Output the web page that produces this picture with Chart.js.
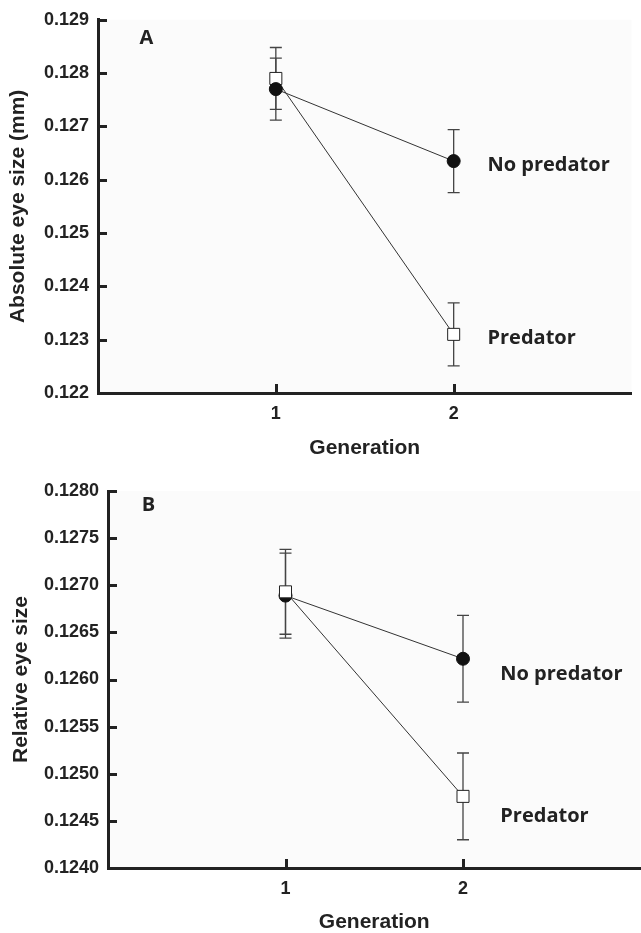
<!DOCTYPE html>
<html>
<head>
<meta charset="utf-8">
<script src="https://cdn.jsdelivr.net/npm/chart.js@4"></script>
<style>
html, body { margin: 0; padding: 0; background: #fff; width: 641px; height: 933px; overflow: hidden; }
#chartA { position: absolute; left: 0; top: 0; }
#chartB { position: absolute; left: 0; top: 466px; }
</style>
</head>
<body>
<canvas id="chartA" width="641" height="466" style="width:641px;height:466px"></canvas>
<canvas id="chartB" width="650" height="467" style="width:650px;height:467px"></canvas>
<script>
var generations = [1, 2]
var xTicks = [1, 2]
var seriesNames = ['No predator', 'Predator']

// panel A - absolute eye size (mm)
var noPredatorA = [0.12770, 0.12635]
var noPredatorErrA = [0.00058, 0.00059]
var predatorA = [0.12790, 0.12310]
var predatorErrA = [0.00058, 0.00059]

// panel B - relative eye size
var noPredatorB = [0.12689, 0.12622]
var noPredatorErrB = [0.00045, 0.00046]
var predatorB = [0.12693, 0.12476]
var predatorErrB = [0.00045, 0.00046]

var axisFont = 'Liberation Sans, Arial, sans-serif'
var labelFont = '"Open Sans", sans-serif'
var ink = '#222'

function toPoints(values) {
    return values.map(function(v, i) { return {x: generations[i], y: v} })
}

// background, error bars, inward ticks and the text labels
var eyeDecor = {
    id: 'eyeDecor',
    beforeDraw: function(chart) {
        var a = chart.chartArea
        var ctx = chart.ctx
        ctx.save()
        ctx.fillStyle = '#fbfbfb'
        ctx.fillRect(a.left, a.top, a.right - a.left, a.bottom - a.top)
        ctx.restore()
    },
    beforeDatasetsDraw: function(chart) {
        var ctx = chart.ctx
        var xs = chart.scales.x, ys = chart.scales.y
        ctx.save()
        ctx.strokeStyle = '#444'
        ctx.lineWidth = 1.3
        chart.data.datasets.forEach(function(ds) {
            ds.data.forEach(function(p, i) {
                var px = xs.getPixelForValue(p.x)
                var top = ys.getPixelForValue(p.y + ds.errors[i])
                var bot = ys.getPixelForValue(p.y - ds.errors[i])
                ctx.beginPath()
                ctx.moveTo(px, top); ctx.lineTo(px, bot)
                ctx.moveTo(px - 6, top); ctx.lineTo(px + 6, top)
                ctx.moveTo(px - 6, bot); ctx.lineTo(px + 6, bot)
                ctx.stroke()
            })
        })
        ctx.restore()
    },
    afterDraw: function(chart, args, opts) {
        var ctx = chart.ctx
        var xs = chart.scales.x, ys = chart.scales.y
        var a = chart.chartArea
        ctx.save()
        ctx.strokeStyle = ink
        ctx.lineWidth = 3
        ctx.beginPath()
        ys.ticks.forEach(function(t) {
            var py = Math.round(ys.getPixelForValue(t.value)) + 0.5
            ctx.moveTo(a.left, py); ctx.lineTo(a.left + 9, py)
        })
        xs.ticks.forEach(function(t) {
            var px = Math.round(xs.getPixelForValue(t.value)) + 0.5
            ctx.moveTo(px, a.bottom); ctx.lineTo(px, a.bottom - 9)
        })
        ctx.stroke()

        ctx.fillStyle = ink
        ctx.font = 'bold 20px ' + labelFont
        ctx.textBaseline = 'middle'
        ctx.textAlign = 'left'
        opts.labels.forEach(function(l) {
            ctx.fillText(l.text, xs.getPixelForValue(l.x), ys.getPixelForValue(l.y))
        })
        ctx.restore()
    }
}

function makeChart(id, cfg) {
    var datasets = [
        {
            label: seriesNames[0],
            data: toPoints(cfg.noPred),
            errors: cfg.noPredErr,
            pointStyle: 'circle',
            pointRadius: 6.5,
            pointBackgroundColor: '#111',
            pointBorderColor: '#111',
            pointBorderWidth: 1,
            borderColor: '#333',
            borderWidth: 1
        },
        {
            label: seriesNames[1],
            data: toPoints(cfg.pred),
            errors: cfg.predErr,
            pointStyle: 'rect',
            pointRadius: 8.5,
            pointBackgroundColor: '#fff',
            pointBorderColor: '#222',
            pointBorderWidth: 1,
            borderColor: '#333',
            borderWidth: 1
        }
    ]
    if (cfg.squareOnTop) datasets.reverse()

    return new Chart(document.getElementById(id), {
        type: 'line',
        data: {datasets: datasets},
        options: {
            responsive: false,
            animation: false,
            layout: {padding: {top: cfg.padTop, right: cfg.padRight, left: 0, bottom: 0}},
            plugins: {
                legend: {display: false},
                tooltip: {enabled: false},
                eyeDecor: {labels: cfg.labels}
            },
            scales: {
                x: {
                    type: 'linear',
                    min: 0,
                    max: 3,
                    afterBuildTicks: function(axis) {
                        axis.ticks = xTicks.map(function(v) { return {value: v} })
                    },
                    afterFit: function(axis) { axis.height = cfg.xHeight },
                    grid: {display: false, drawTicks: false},
                    border: {display: true, color: ink, width: 3},
                    ticks: {
                        padding: 10,
                        color: ink,
                        font: {family: axisFont, size: 18, weight: 'bold'},
                        callback: function(v) { return String(v) }
                    },
                    title: {
                        display: true,
                        text: 'Generation',
                        color: ink,
                        font: {family: axisFont, size: 21, weight: 'bold', lineHeight: 1},
                        padding: {top: 0, bottom: cfg.xTitlePad}
                    }
                },
                y: {
                    min: cfg.yMin,
                    max: cfg.yMax,
                    afterFit: function(axis) { axis.width = cfg.yWidth },
                    grid: {display: false, drawTicks: false},
                    border: {display: true, color: ink, width: 3},
                    ticks: {
                        stepSize: cfg.yStep,
                        padding: 9,
                        color: ink,
                        font: {family: axisFont, size: 18, weight: 'bold'},
                        callback: function(v) { return v.toFixed(cfg.digits) }
                    },
                    title: {
                        display: true,
                        text: cfg.yTitle,
                        color: ink,
                        font: {family: axisFont, size: 21, weight: 'bold', lineHeight: 1},
                        padding: {top: cfg.yTitlePad, bottom: 0}
                    }
                }
            }
        },
        plugins: [eyeDecor]
    })
}

makeChart('chartA', {
    noPred: noPredatorA, noPredErr: noPredatorErrA,
    pred: predatorA, predErr: predatorErrA,
    squareOnTop: false,
    yMin: 0.122, yMax: 0.129, yStep: 0.001, digits: 3,
    yTitle: 'Absolute eye size (mm)',
    padTop: 16, padRight: 5, xHeight: 73, yWidth: 98,
    xTitlePad: 7, yTitlePad: 8,
    labels: [
        {text: 'A', x: 0.234, y: 0.12866},
        {text: 'No predator', x: 2.19, y: 0.12627},
        {text: 'Predator', x: 2.19, y: 0.12302}
    ]
})

makeChart('chartB', {
    noPred: noPredatorB, noPredErr: noPredatorErrB,
    pred: predatorB, predErr: predatorErrB,
    squareOnTop: true,
    yMin: 0.124, yMax: 0.128, yStep: 0.0005, digits: 4,
    yTitle: 'Relative eye size',
    padTop: 25, padRight: 5, xHeight: 65, yWidth: 108,
    xTitlePad: 0, yTitlePad: 11,
    labels: [
        {text: 'B', x: 0.19, y: 0.12785},
        {text: 'No predator', x: 2.21, y: 0.12605},
        {text: 'Predator', x: 2.21, y: 0.12455}
    ]
})
</script>
</body>
</html>
